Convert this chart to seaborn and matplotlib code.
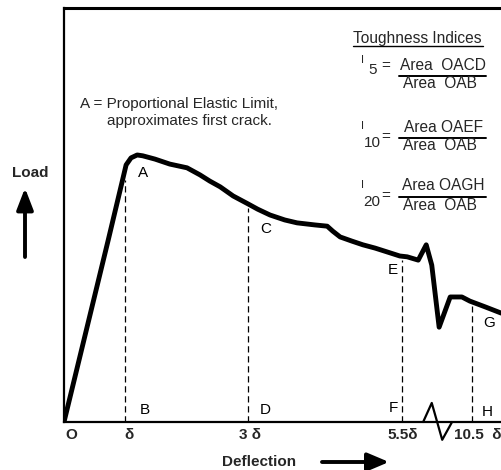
import numpy as np
import pandas as pd
import matplotlib
matplotlib.use("Agg")
import matplotlib.pyplot as plt
from matplotlib.lines import Line2D
import seaborn as sns

# Load-deflection curve (deflection in multiples of delta, load in % of frame height)
deflection = [0.00, 0.72, 0.94, 1.01, 1.09, 1.19, 1.28, 1.48, 1.72, 2.00, 2.21, 2.37,
              2.54, 2.75, 2.99, 3.15, 3.35, 3.59, 3.79, 4.08, 4.28, 4.37, 4.49, 4.68,
              4.86, 5.06, 5.25, 5.46, 5.58, 5.76, 5.89, 5.98, 6.10, 6.28, 6.47, 6.60,
              6.85, 7.11]
load = [0.0, 44.0, 57.7, 62.1, 63.8, 64.5, 64.3, 63.5, 62.3, 61.4, 59.7, 58.2,
        56.8, 54.6, 52.7, 51.4, 50.0, 48.8, 48.1, 47.6, 47.3, 46.1, 44.7, 43.7,
        42.8, 42.0, 41.1, 40.1, 39.9, 39.1, 42.8, 37.9, 22.9, 30.2, 30.2, 29.2,
        27.8, 26.3]

# Marked deflections (delta, 3 delta, 5.5 delta, 10.5 delta past the axis break)
mark_x = [1.0, 3.0, 5.5, 6.63]
upper_letters = ["A", "C", "E", "G"]
lower_letters = ["B", "D", "F", "H"]
tick_x = [0.0, 1.0, 3.0, 5.5, 6.63]
tick_labels = ["O", "δ", "3 δ", "5.5δ", "10.5  δ"]

# Axis break symbol on the deflection axis
break_x = [5.84, 5.98, 6.15, 6.31]
break_y = [0.0, 4.6, -4.3, 0.0]

index_names = ["5", "10", "20"]
index_numerators = ["Area  OACD", "Area OAEF", "Area OAGH"]
index_denominator = "Area  OAB"

sns.set_theme(style="white")
plt.rcParams["font.family"] = ["Liberation Sans", "DejaVu Sans"]

W, H = 501, 470
fig = plt.figure(figsize=(W / 100, H / 100), dpi=100)
ax = fig.add_axes([64 / W, 1 - 422 / H, (W - 64) / W, (422 - 8) / H])
ax.set_xlim(0, 7.106)
ax.set_ylim(0, 100)


def fx(px):
    return px / W


def fy(py):
    return 1 - py / H


df = pd.DataFrame({"deflection": deflection, "load": load})
sns.lineplot(data=df, x="deflection", y="load", ax=ax, color="black", lw=3.5,
             sort=False, estimator=None, solid_joinstyle="round", solid_capstyle="round")

# Dashed verticals from the axis up to the curve
gaps = [3.0, 1.0, 1.0, 1.0]
for xv, gap in zip(mark_x, gaps):
    top = np.interp(xv, deflection, load)
    ax.plot([xv, xv], [0, top - gap], color="black", lw=0.9, ls=(0, (5, 3)))

upper_offsets = [(18, -5), (17, -25), (-9, -14), (17, -21)]
lower_offsets = [(19, 12), (17, 12), (-9, 14), (16, 10)]
for xv, lab, (dx, dy) in zip(mark_x, upper_letters, upper_offsets):
    top = np.interp(xv, deflection, load)
    ax.annotate(lab, (xv, top), xytext=(dx, dy), textcoords="offset pixels",
                ha="center", va="center", fontsize=11, color="black")
for xv, lab, (dx, dy) in zip(mark_x, lower_letters, lower_offsets):
    ax.annotate(lab, (xv, 0), xytext=(dx, dy), textcoords="offset pixels",
                ha="center", va="center", fontsize=11, color="black")

ax.plot(break_x, break_y, color="black", lw=1.6, clip_on=False)

# Tick labels under the deflection axis
offsets = [7, 4, 2, 0, 6]
for xv, lab, dx in zip(tick_x, tick_labels, offsets):
    ax.annotate(lab, (xv, 0), xytext=(dx, -13), textcoords="offset pixels",
                ha="center", va="center", fontsize=11, fontweight="bold",
                annotation_clip=False)

ax.set_xticks([])
ax.set_yticks([])
ax.set_xlabel("")
ax.set_ylabel("")
for side in ["left", "bottom", "top"]:
    ax.spines[side].set_visible(True)
    ax.spines[side].set_color("black")
ax.spines["left"].set_linewidth(1.6)
ax.spines["bottom"].set_linewidth(1.6)
ax.spines["top"].set_linewidth(2.2)
ax.spines["right"].set_visible(False)

# Axis titles with arrows
fig.text(fx(30), fy(173), "Load", ha="center", va="center", fontsize=11, fontweight="bold")
fig.text(fx(259), fy(462), "Deflection", ha="center", va="center", fontsize=11,
         fontweight="bold")
ax.annotate("", xy=(25, H - 188), xytext=(25, H - 257), xycoords="figure pixels",
            textcoords="figure pixels", annotation_clip=False,
            arrowprops=dict(arrowstyle="-|>,head_length=1.3,head_width=0.5",
                            mutation_scale=10, lw=2.8, color="black",
                            shrinkA=0, shrinkB=0))
ax.annotate("", xy=(389, H - 462), xytext=(322, H - 462), xycoords="figure pixels",
            textcoords="figure pixels", annotation_clip=False,
            arrowprops=dict(arrowstyle="-|>,head_length=1.3,head_width=0.55",
                            mutation_scale=10, lw=2.8, color="black",
                            shrinkA=0, shrinkB=0))

# Proportional elastic limit note
fig.text(fx(80), fy(104), "A = Proportional Elastic Limit,", ha="left", va="center",
         fontsize=11)
fig.text(fx(107), fy(121), "approximates first crack.", ha="left", va="center",
         fontsize=11)

# Toughness indices legend
fig.text(fx(353), fy(38), "Toughness Indices", ha="left", va="center", fontsize=11.2)
fig.add_artist(Line2D([fx(353), fx(483)], [fy(46), fy(46)], color="black", lw=1.0,
                      transform=fig.transFigure))

rows_y = [76, 138, 197]
i_dy = [-16, -12, -12]
n_dy = [-6, 5, 5]
eq_dy = [-10, -1, -1]
n_x = [373, 372, 372]
for name, num, ly, idy, ndy, edy, nx in zip(index_names, index_numerators, rows_y,
                                           i_dy, n_dy, eq_dy, n_x):
    fig.text(fx(362), fy(ly + idy), "I", ha="center", va="center", fontsize=8)
    fig.text(fx(nx), fy(ly + ndy), name, ha="center", va="center", fontsize=11)
    fig.text(fx(386), fy(ly + edy), "=", ha="center", va="center", fontsize=11)
    fig.text(fx(443), fy(ly - 11), num, ha="center", va="center", fontsize=11.2)
    fig.add_artist(Line2D([fx(399), fx(486)], [fy(ly), fy(ly)], color="black", lw=1.4,
                          transform=fig.transFigure))
    fig.text(fx(440), fy(ly + 8), index_denominator, ha="center", va="center",
             fontsize=11.2)

fig.savefig("out.png", dpi=100)
